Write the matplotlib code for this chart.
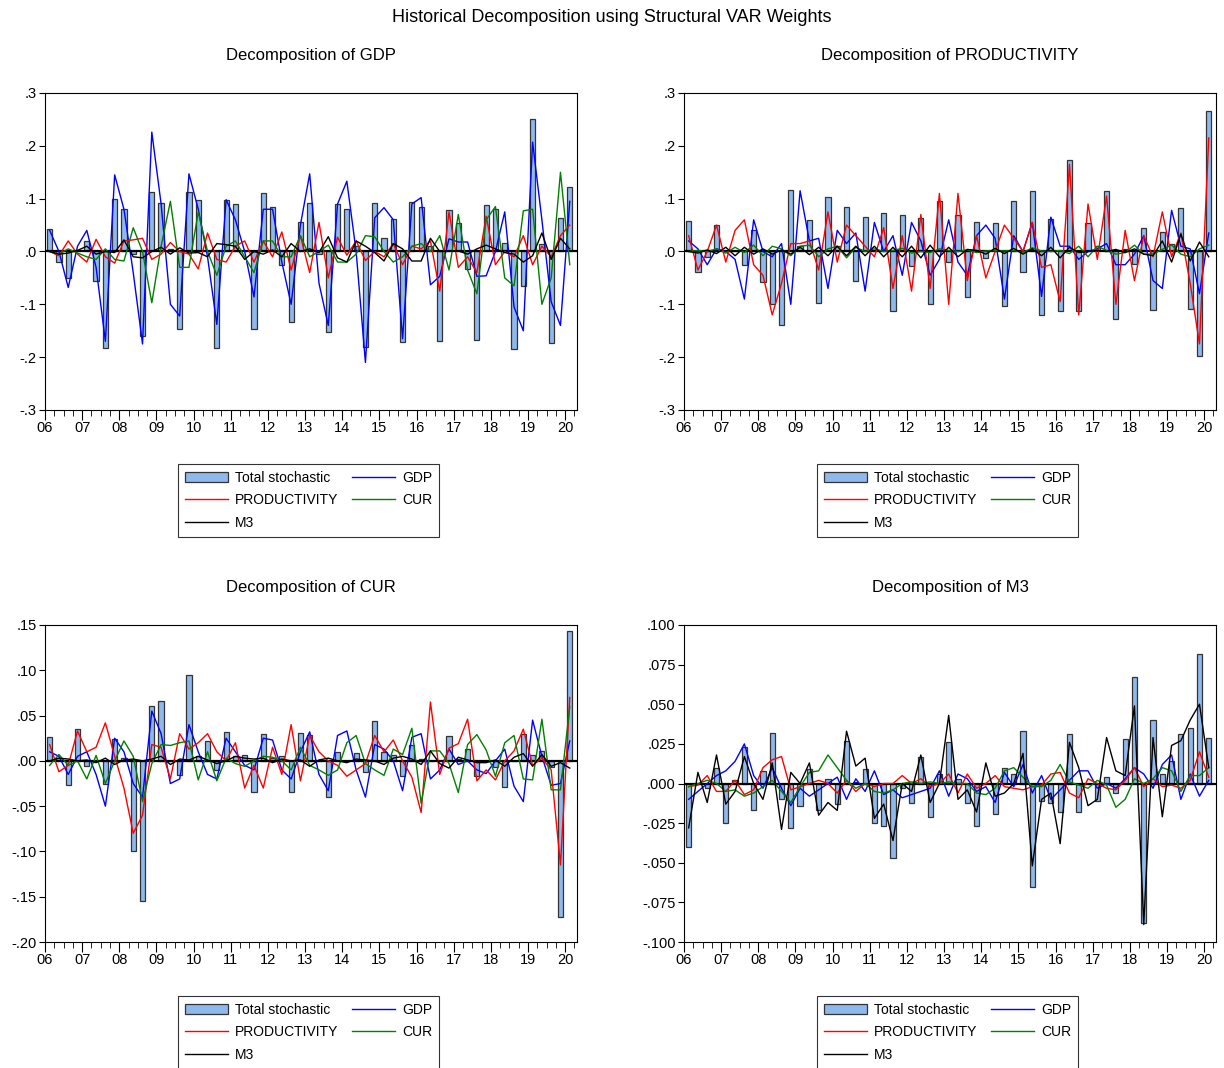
import numpy as np
import matplotlib
matplotlib.use('Agg')
import matplotlib.pyplot as plt
from matplotlib.ticker import FuncFormatter, MultipleLocator

plt.rcParams['font.family'] = ['Liberation Sans', 'DejaVu Sans']

# quarterly data 2006Q1 .. 2020Q1
n = 57
t = 2006 + np.arange(n) / 4 + 0.125

# ---- Decomposition of GDP ----
gdp_total = [0.043, -0.02, -0.05, 0.0, 0.02, -0.055, -0.183, 0.1, 0.08, -0.005,
             -0.16, 0.113, 0.092, 0.005, -0.147, 0.112, 0.098, 0.0, -0.183, 0.097,
             0.09, 0.0, -0.146, 0.11, 0.084, -0.025, -0.133, 0.056, 0.092, -0.005,
             -0.153, 0.09, 0.08, 0.01, -0.18, 0.092, 0.025, 0.061, -0.172, 0.093,
             0.085, 0.01, -0.17, 0.078, 0.053, -0.033, -0.168, 0.088, 0.08, 0.016,
             -0.185, -0.065, 0.25, 0.014, -0.173, 0.063, 0.123]
gdp_gdp = [0.04, 0.0, -0.068, 0.01, 0.04, -0.03, -0.17, 0.145, 0.08, -0.04,
           -0.175, 0.226, 0.09, -0.1, -0.122, 0.147, 0.08, -0.01, -0.138, 0.098,
           0.06, 0.0, -0.086, 0.08, 0.08, -0.02, -0.1, 0.05, 0.147, -0.06,
           -0.14, 0.09, 0.133, 0.0, -0.21, 0.064, 0.083, 0.06, -0.165, 0.09,
           0.102, -0.063, -0.047, 0.024, 0.018, 0.018, -0.047, -0.046, 0.0, 0.075,
           -0.105, -0.15, 0.207, 0.06, -0.095, -0.14, 0.095]
gdp_prod = [0.0, -0.008, 0.02, -0.005, -0.02, 0.023, -0.01, -0.022, 0.02, 0.022,
            0.025, -0.015, -0.005, 0.017, 0.0, -0.005, -0.033, 0.035, -0.015, -0.02,
            0.01, 0.02, -0.02, 0.02, -0.01, 0.037, -0.035, 0.03, -0.04, 0.055,
            -0.05, 0.027, -0.007, 0.02, -0.017, 0.0, -0.01, 0.015, -0.025, 0.01,
            0.005, 0.02, -0.075, 0.075, -0.03, -0.01, -0.04, 0.067, -0.025, 0.0,
            -0.01, 0.03, -0.025, 0.01, -0.01, 0.03, 0.05]
gdp_cur = [0.0, -0.005, 0.005, -0.003, -0.01, -0.015, 0.005, -0.015, -0.018, 0.045,
           0.0, -0.097, 0.01, 0.095, -0.03, -0.03, 0.075, 0.0, -0.045, 0.01,
           0.02, -0.01, -0.04, 0.02, 0.02, -0.01, -0.01, 0.03, -0.01, 0.0,
           0.012, -0.02, -0.02, -0.005, 0.03, 0.028, 0.0, -0.02, -0.01, 0.01,
           0.015, 0.0, 0.03, -0.035, 0.07, -0.035, -0.08, 0.06, 0.085, -0.05,
           -0.065, 0.077, 0.08, -0.1, -0.05, 0.15, -0.025]
gdp_m3 = [0.0, -0.005, -0.003, 0.002, 0.01, -0.005, 0.0, -0.002, 0.022, -0.01,
          -0.012, 0.0, 0.008, -0.005, 0.007, -0.003, -0.002, -0.01, 0.015, 0.013,
          0.01, -0.015, 0.0, -0.005, 0.003, -0.01, 0.015, 0.0, 0.005, -0.002,
          0.028, -0.012, -0.02, 0.02, 0.01, -0.002, -0.018, 0.015, 0.005, -0.018,
          -0.018, 0.025, 0.0, 0.001, 0.001, -0.005, 0.005, 0.012, 0.005, -0.002,
          -0.005, -0.02, -0.008, 0.035, -0.015, 0.025, 0.005]

# ---- Decomposition of PRODUCTIVITY ----
prd_total = [0.058, -0.038, -0.01, 0.05, 0.0, 0.0, -0.025, 0.04, -0.058, -0.1,
             -0.14, 0.117, 0.01, 0.06, -0.098, 0.103, 0.01, 0.085, -0.055, 0.065,
             0.0, 0.072, -0.113, 0.069, -0.027, 0.063, -0.1, 0.096, -0.02, 0.07,
             -0.086, 0.055, -0.012, 0.054, -0.103, 0.096, -0.038, 0.114, -0.12, 0.062,
             -0.112, 0.174, -0.113, 0.054, 0.01, 0.114, -0.127, 0.005, -0.023, 0.045,
             -0.11, 0.037, 0.015, 0.082, -0.108, -0.197, 0.265]
prd_gdp = [0.02, 0.005, -0.025, 0.005, 0.0, -0.015, -0.09, 0.06, 0.0, -0.01,
           0.015, -0.1, 0.115, 0.02, 0.025, -0.07, 0.04, 0.015, 0.035, -0.075,
           0.055, 0.0, 0.03, -0.045, 0.055, 0.02, -0.045, -0.015, 0.06, -0.02,
           -0.045, 0.03, 0.05, 0.025, -0.09, 0.03, 0.0, 0.055, -0.085, 0.065,
           0.01, 0.01, -0.015, 0.0, 0.005, 0.015, -0.025, -0.025, -0.005, 0.03,
           -0.055, -0.07, 0.078, 0.01, 0.005, -0.08, 0.035]
prd_prod = [0.03, -0.035, 0.0, 0.05, -0.02, 0.04, 0.06, -0.025, -0.045, -0.12,
            -0.06, 0.015, 0.015, 0.02, -0.035, 0.075, -0.02, 0.05, 0.03, 0.01,
            -0.01, 0.045, -0.07, 0.03, -0.075, 0.07, -0.07, 0.11, -0.1, 0.11,
            -0.055, 0.03, -0.05, 0.0, 0.05, 0.025, 0.0, 0.055, -0.03, -0.025,
            -0.095, 0.165, -0.12, 0.09, -0.015, 0.105, -0.1, 0.04, -0.055, 0.03,
            -0.01, 0.075, -0.01, 0.035, -0.06, -0.175, 0.215]
prd_cur = [0.0, 0.002, 0.0, 0.005, -0.003, 0.008, -0.002, 0.012, -0.008, 0.01,
           0.005, -0.008, 0.01, 0.012, -0.01, 0.005, 0.01, -0.012, 0.008, 0.0,
           0.005, 0.0, 0.002, 0.006, -0.003, 0.0, -0.002, 0.005, 0.002, 0.0,
           0.003, -0.002, 0.001, 0.002, 0.001, 0.002, -0.002, 0.007, 0.001, 0.0,
           0.002, -0.004, 0.01, -0.01, 0.01, 0.002, -0.005, -0.002, 0.012, -0.005,
           -0.005, 0.004, 0.012, -0.005, -0.01, 0.005, 0.012]
prd_m3 = [0.0, -0.003, 0.003, -0.004, 0.008, -0.008, 0.008, -0.005, 0.005, -0.005,
          0.003, -0.005, 0.008, -0.006, 0.008, -0.008, 0.01, -0.008, 0.01, -0.008,
          0.01, -0.01, 0.008, -0.01, 0.01, -0.012, 0.012, -0.01, 0.008, -0.01,
          0.004, 0.002, -0.005, 0.006, -0.004, 0.006, -0.005, 0.005, -0.008, 0.008,
          -0.012, 0.008, -0.002, 0.0, 0.002, 0.0, 0.004, -0.002, 0.005, -0.005,
          -0.008, 0.02, -0.02, 0.033, -0.018, 0.018, -0.01]

# ---- Decomposition of CUR ----
cur_total = [0.026, 0.003, -0.027, 0.035, -0.006, 0.0, -0.026, 0.024, 0.003, -0.1,
             -0.155, 0.061, 0.066, 0.0, -0.016, 0.095, 0.005, 0.022, -0.01, 0.032,
             0.005, 0.007, -0.034, 0.03, 0.003, 0.005, -0.034, 0.031, 0.028, 0.0,
             -0.04, 0.01, 0.0, 0.009, -0.012, 0.044, 0.01, 0.007, -0.017, 0.018,
             0.002, 0.0, 0.0, 0.027, 0.002, 0.013, -0.017, 0.0, -0.007, -0.029,
             0.0, 0.03, 0.007, 0.011, -0.007, -0.172, 0.143]
cur_gdp = [0.01, 0.005, -0.015, 0.005, 0.01, -0.015, -0.05, 0.025, 0.01, -0.025,
           -0.04, 0.055, 0.03, -0.025, -0.02, 0.04, 0.01, -0.015, -0.02, 0.025,
           0.01, -0.005, -0.01, 0.025, 0.023, -0.01, -0.02, 0.01, 0.032, -0.015,
           -0.033, 0.028, 0.033, -0.01, -0.04, 0.018, 0.013, 0.0, -0.033, 0.026,
           0.03, -0.02, -0.01, 0.013, -0.004, 0.0, -0.01, -0.014, 0.0, 0.013,
           -0.028, -0.045, 0.045, 0.005, -0.027, -0.025, 0.022]
cur_prod = [0.018, -0.012, -0.005, 0.033, 0.01, 0.015, 0.042, 0.005, -0.03, -0.08,
            -0.06, 0.018, 0.015, -0.02, 0.03, 0.013, 0.02, 0.03, 0.01, 0.0,
            0.02, -0.03, -0.005, -0.03, 0.015, -0.015, 0.04, -0.022, 0.028, 0.01,
            0.0, -0.005, -0.017, -0.01, -0.003, 0.028, 0.01, 0.023, 0.0, -0.018,
            -0.057, 0.065, -0.015, 0.014, 0.019, 0.046, -0.022, -0.01, -0.021, 0.0,
            0.011, 0.035, -0.005, 0.003, -0.01, -0.115, 0.07]
cur_cur = [-0.005, 0.007, -0.005, 0.0, -0.02, 0.006, -0.025, 0.0, 0.022, 0.005,
           -0.045, -0.003, 0.018, 0.017, 0.02, 0.022, -0.021, 0.01, -0.022, 0.003,
           -0.003, -0.006, 0.0, 0.005, 0.004, 0.0, -0.01, 0.015, -0.005, -0.01,
           -0.016, -0.01, 0.02, 0.028, -0.003, -0.01, -0.016, 0.013, 0.007, 0.036,
           -0.047, 0.011, 0.011, -0.003, -0.035, 0.018, 0.029, 0.012, -0.017, 0.02,
           0.028, -0.02, -0.021, 0.046, -0.032, -0.032, 0.06]
cur_m3 = [0.0, 0.003, 0.002, 0.0, 0.001, -0.002, 0.003, -0.004, 0.001, 0.002,
          0.0, 0.002, 0.005, -0.004, 0.002, 0.001, 0.005, 0.001, -0.003, 0.0,
          0.005, 0.003, 0.002, 0.003, -0.002, 0.002, 0.0, 0.001, -0.006, 0.001,
          0.003, 0.0, -0.002, 0.002, 0.001, 0.0, -0.004, 0.003, 0.005, 0.002,
          -0.004, 0.011, -0.003, -0.008, 0.004, 0.001, -0.002, -0.002, 0.001, -0.006,
          0.004, 0.008, -0.006, 0.007, -0.006, -0.002, -0.008]

# ---- Decomposition of M3 ----
m3_total = [-0.04, 0.0, -0.003, 0.01, -0.025, 0.002, 0.023, -0.017, 0.008, 0.032,
            -0.01, -0.028, -0.014, 0.009, -0.017, 0.003, -0.013, 0.027, 0.001, 0.009,
            -0.025, -0.027, -0.047, -0.003, -0.012, 0.017, -0.021, 0.006, 0.026, 0.003,
            -0.012, -0.027, 0.0, -0.019, 0.01, 0.006, 0.033, -0.065, -0.011, -0.012,
            -0.018, 0.031, -0.018, 0.0, -0.011, 0.004, -0.006, 0.028, 0.067, -0.088,
            0.04, 0.006, 0.014, 0.031, 0.035, 0.082, 0.029]
m3_gdp = [-0.01, -0.005, 0.0, 0.005, 0.008, 0.014, 0.025, 0.005, -0.003, 0.01,
          -0.003, -0.014, -0.003, -0.008, -0.004, 0.0, 0.004, -0.01, 0.003, -0.005,
          0.008, -0.007, -0.004, -0.009, -0.007, -0.005, -0.003, 0.008, -0.008, 0.006,
          0.003, -0.005, -0.002, -0.012, 0.007, -0.002, 0.012, -0.006, 0.005, -0.01,
          -0.004, 0.002, 0.008, 0.008, -0.003, 0.0, -0.003, 0.003, 0.01, 0.006,
          -0.003, 0.012, 0.018, -0.01, 0.006, -0.008, 0.002]
m3_prod = [-0.002, -0.001, 0.005, -0.005, -0.005, 0.002, -0.007, -0.004, 0.01, 0.015,
           0.017, -0.004, -0.002, 0.0, 0.002, 0.0, -0.006, 0.002, -0.005, 0.0,
           -0.002, 0.0, 0.0, 0.005, 0.0, 0.003, -0.002, 0.0, 0.006, -0.006,
           0.006, -0.003, 0.0, 0.005, -0.002, -0.003, -0.004, -0.002, -0.001, 0.006,
           0.007, -0.006, -0.009, 0.003, 0.0, -0.003, -0.004, 0.002, 0.01, -0.002,
           0.003, -0.002, -0.001, -0.003, 0.002, 0.02, 0.004]
m3_cur = [-0.002, 0.0, 0.002, 0.0, -0.005, -0.004, -0.008, -0.006, -0.002, 0.002,
          -0.005, -0.012, -0.002, 0.007, 0.008, 0.018, 0.01, 0.002, -0.003, 0.0,
          -0.005, -0.006, -0.004, 0.0, 0.001, 0.0, 0.001, 0.0, 0.001, 0.0,
          0.0, -0.006, -0.007, -0.003, 0.008, 0.01, 0.004, -0.002, -0.002, 0.002,
          0.012, 0.001, -0.001, -0.003, 0.002, -0.001, -0.015, -0.01, 0.003, 0.0,
          0.003, 0.01, 0.008, -0.005, 0.005, 0.005, 0.01]
m3_m3 = [-0.028, 0.007, -0.012, 0.018, -0.013, -0.005, 0.017, 0.0, -0.01, 0.013,
         -0.029, 0.007, 0.0, 0.013, -0.02, -0.012, -0.017, 0.033, 0.011, 0.016,
         -0.022, -0.013, -0.036, 0.0, -0.005, 0.018, -0.012, 0.0, 0.043, -0.01,
         -0.004, -0.018, 0.013, -0.008, -0.006, 0.0, 0.019, -0.052, -0.01, -0.006,
         -0.038, 0.026, 0.01, -0.014, -0.01, 0.029, 0.008, 0.005, 0.049, -0.089,
         0.029, -0.021, 0.024, 0.027, 0.04, 0.05, 0.01]

panels = [
    ('Decomposition of GDP', gdp_total, gdp_gdp, gdp_prod, gdp_cur, gdp_m3,
     (-0.3, 0.3), 0.1, '%.1f'),
    ('Decomposition of PRODUCTIVITY', prd_total, prd_gdp, prd_prod, prd_cur, prd_m3,
     (-0.3, 0.3), 0.1, '%.1f'),
    ('Decomposition of CUR', cur_total, cur_gdp, cur_prod, cur_cur, cur_m3,
     (-0.2, 0.15), 0.05, '%.2f'),
    ('Decomposition of M3', m3_total, m3_gdp, m3_prod, m3_cur, m3_m3,
     (-0.1, 0.1), 0.025, '%.3f'),
]

def dezero(fmt):
    def f(v, pos):
        if abs(v) < 1e-12:
            v = 0.0
        return (fmt % v).replace('0.', '.', 1)
    return FuncFormatter(f)

fig = plt.figure(figsize=(12.24, 10.68), dpi=100)
fig.text(0.5, 1 - 17 / 1068, 'Historical Decomposition using Structural VAR Weights',
         ha='center', va='center', fontsize=13)

W, H = 1224, 1068
pos = [(45, 93), (684, 93), (45, 625), (684, 625)]
for (title, tot, g, p, c, m, ylim, step, fmt), (px, py) in zip(panels, pos):
    ax = fig.add_axes([px / W, 1 - (py + 317) / H, 532 / W, 317 / H])
    bars = ax.bar(t, tot, width=0.14, color='#8fb8ec', edgecolor='#333333',
                  linewidth=0.9, label='Total stochastic')
    ax.axhline(0, color='black', linewidth=1.6)
    lg, = ax.plot(t, g, color='#0000ff', lw=1.0, label='GDP')
    lp, = ax.plot(t, p, color='#ff0000', lw=1.0, label='PRODUCTIVITY')
    lc, = ax.plot(t, c, color='#008000', lw=1.0, label='CUR')
    lm, = ax.plot(t, m, color='black', lw=1.0, label='M3')
    ax.set_xlim(2006, 2020.32)
    ax.set_ylim(*ylim)
    ax.yaxis.set_major_locator(MultipleLocator(step))
    ax.yaxis.set_major_formatter(dezero(fmt))
    years = np.arange(2006, 2021)
    ax.set_xticks(years)
    ax.set_xticklabels(['%02d' % (y % 100) for y in years])
    ax.xaxis.set_minor_locator(MultipleLocator(0.25))
    ax.tick_params(axis='x', which='major', length=7, direction='out', labelsize=10.5, pad=1)
    ax.tick_params(axis='x', which='minor', length=4, direction='out')
    ax.tick_params(axis='y', length=4, labelsize=10.5, pad=2)
    ax.set_title(title, fontsize=12, pad=24)
    for s in ax.spines.values():
        s.set_linewidth(0.8)
    # legend box below each panel
    lx = (px + 133) / W
    ly = 1 - (py + 371) / H
    leg = fig.legend(handles=[bars, lp, lm, lg, lc],
                     labels=['Total stochastic', 'PRODUCTIVITY', 'M3', 'GDP', 'CUR'],
                     loc='upper left', bbox_to_anchor=(lx, ly),
                     ncol=2, fontsize=10, frameon=True, fancybox=False,
                     edgecolor='black', handlelength=3.1, handleheight=0.8,
                     handletextpad=0.5, borderaxespad=0, labelspacing=0.6,
                     columnspacing=1.0, borderpad=0.5)
    leg.get_frame().set_linewidth(0.8)

fig.savefig('out.png', dpi=100)
